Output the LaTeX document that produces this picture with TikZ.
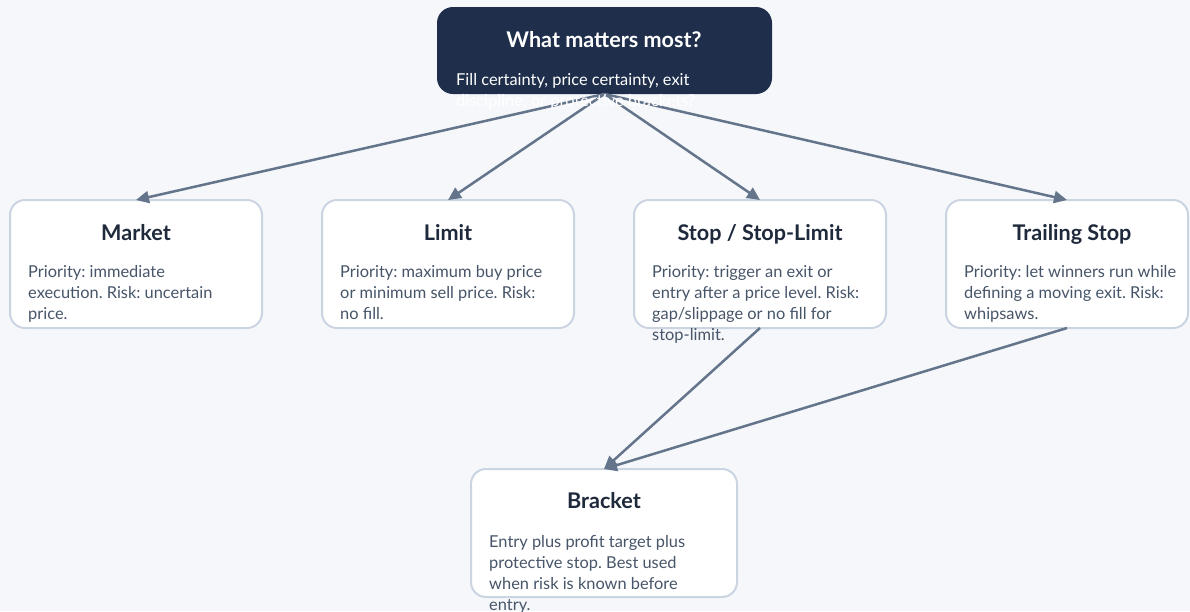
\documentclass[tikz,border=0pt]{standalone}
\usepackage{fontspec}
\setmainfont{Lato}
\usetikzlibrary{arrows.meta}
\frenchspacing
\definecolor{bg}{HTML}{F5F7FA}
\definecolor{navy}{HTML}{1F2F4B}
\definecolor{edgec}{HTML}{64748B}
\definecolor{boxline}{HTML}{CBD5E1}
\definecolor{titlec}{HTML}{1E293B}
\definecolor{bodyc}{HTML}{475569}
\tikzset{
  card/.style={draw=boxline, line width=2pt, fill=white, rounded corners=15pt,
    minimum height=128pt, minimum width=252pt, inner sep=0pt, outer sep=0pt, anchor=north west},
  topcard/.style={fill=navy, rounded corners=16pt, minimum height=87pt, minimum width=335pt,
    inner sep=0pt, outer sep=0pt, anchor=north west},
  cardtitle/.style={font=\bfseries\fontsize{21.6}{26}\selectfont, text=titlec, anchor=base, inner sep=0pt},
  cardbody/.style={font=\fontsize{16.4}{21}\selectfont, text=bodyc, anchor=base west, inner sep=0pt},
  arr/.style={draw=edgec, line width=2.5pt, -{Triangle[length=13pt,width=12pt]}, shorten >=0pt},
}
\newcommand{\bodytext}[1]{\parbox[t]{320pt}{\raggedright\frenchspacing #1}}
\begin{document}
\begin{tikzpicture}[x=1pt,y=-1pt]
\fill[bg] (0,0) rectangle (1190,611);
\useasboundingbox (0,0) rectangle (1190,611);
% boxes
\node[topcard] (top) at (437,7) {};
\node[card] (market) at (10,200) {};
\node[card] (limit) at (322,200) {};
\node[card] (stop) at (634,200) {};
\node[card, minimum width=242pt] (trail) at (946,200) {};
\node[card, minimum width=266pt] (bracket) at (471,469) {};
% connectors
\draw[arr] (top.south) -- (market.north);
\draw[arr] (top.south) -- (limit.north);
\draw[arr] (top.south) -- (stop.north);
\draw[arr] (top.south) -- (trail.north);
\draw[arr] (stop.south) -- (bracket.north);
\draw[arr] (trail.south) -- (bracket.north);
% texts
\node[cardtitle, text=white] (toptitle) at (604,47) {What matters most?};
\node[cardbody, text=white] (topbody) at (456,85) {\bodytext{Fill certainty, price certainty, exit\\discipline, or protective brackets?}};
\node[cardtitle] (markettitle) at (136,240) {Market};
\node[cardbody] (marketbody) at (28,277) {\bodytext{Priority: immediate\\execution. Risk: uncertain\\price.}};
\node[cardtitle] (limittitle) at (448,240) {Limit};
\node[cardbody] (limitbody) at (340,277) {\bodytext{Priority: maximum buy price\\or minimum sell price. Risk:\\no fill.}};
\node[cardtitle] (stoptitle) at (760,240) {Stop / Stop-Limit};
\node[cardbody] (stopbody) at (652,277) {\bodytext{Priority: trigger an exit or\\entry after a price level. Risk:\\gap/slippage or no fill for\\stop-limit.}};
\node[cardtitle] (trailtitle) at (1072,240) {Trailing Stop};
\node[cardbody] (trailbody) at (964,277) {\bodytext{Priority: let winners run while\\defining a moving exit. Risk:\\whipsaws.}};
\node[cardtitle] (brackettitle) at (604,508) {Bracket};
\node[cardbody] (bracketbody) at (489,547) {\bodytext{Entry plus profit target plus\\protective stop. Best used\\when risk is known before\\entry.}};
\end{tikzpicture}
\end{document}
